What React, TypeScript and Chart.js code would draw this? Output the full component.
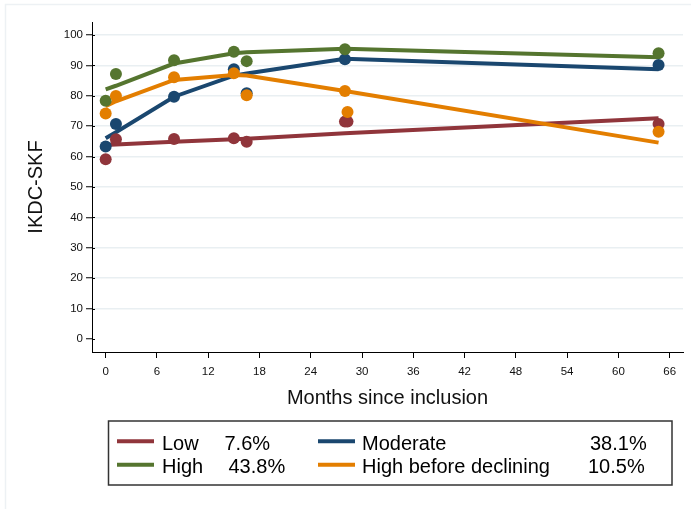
import { useEffect, useRef } from "react";
import { Chart, registerables } from "chart.js";

Chart.register(...registerables);

const FONT = "'Liberation Sans', Arial, Helvetica, sans-serif";

const groupNames = ["Low", "Moderate", "High", "High before declining"];
const groupShares = ["7.6%", "38.1%", "43.8%", "10.5%"];
const groupColors = ["#90353B", "#1A476F", "#55752F", "#E37E00"];

// observed group means
const obsTimes = [0, 1.2, 8, 15, 16.5, 28, 28.3, 64.7];
const lowObs = [59.1, 65.7, 65.8, 66.0, 64.9, 71.5, 71.5, 70.7];
const moderateObs = [63.3, 70.7, 79.7, 88.7, 80.8, 92.0, null, 90.1];
const highObs = [78.4, 87.2, 91.7, 94.5, 91.4, 95.3, null, 94.0];
const declObs = [74.2, 79.9, 86.1, 87.4, 80.2, 81.6, 74.7, 68.2];

// fitted trajectories
const fitTimes = [0, 1.2, 8, 15, 16.5, 28, 64.7];
const lowFit = [63.8, 64.0, 64.9, 65.7, 65.9, 67.7, 72.6];
const moderateFit = [66.0, 68.0, 79.7, 86.6, 87.3, 92.2, 88.7];
const highFit = [82.1, 83.3, 90.6, 94.0, 94.3, 95.5, 92.7];
const declFit = [76.6, 78.2, 85.2, 86.8, 86.7, 81.6, 64.6];

const xTicks = [0, 6, 12, 18, 24, 30, 36, 42, 48, 54, 60, 66];
const yTicks = [0, 10, 20, 30, 40, 50, 60, 70, 80, 90, 100];

const obsSeries = [lowObs, moderateObs, highObs, declObs];
const fitSeries = [lowFit, moderateFit, highFit, declFit];

const legendPlugin = {
  id: "stataLegend",
  afterDraw(chart: any) {
    const ctx = chart.ctx as CanvasRenderingContext2D;
    ctx.save();
    // faint outer graph-region frame
    ctx.strokeStyle = "#edf1f4";
    ctx.lineWidth = 1.5;
    ctx.beginPath();
    ctx.moveTo(5.5, 509);
    ctx.lineTo(5.5, 4.5);
    ctx.lineTo(691, 4.5);
    ctx.stroke();

    // short inner part of y ticks (Stata "crossing" ticks)
    const ys = chart.scales.y;
    const left = chart.chartArea.left;
    ctx.strokeStyle = "#000";
    ctx.lineWidth = 1;
    yTicks.forEach((v) => {
      const py = Math.round(ys.getPixelForValue(v)) + 0.5;
      ctx.beginPath();
      ctx.moveTo(left, py);
      ctx.lineTo(left + 3, py);
      ctx.stroke();
    });

    // legend box
    ctx.strokeStyle = "#333333";
    ctx.lineWidth = 1.5;
    ctx.strokeRect(108.5, 421, 563.5, 64);

    const lineX = [117, 318, 117, 318];
    const nameX = [162, 362, 162, 362];
    const shareX = [224.5, 590, 228.5, 588];
    const lineY = [441.3, 441.3, 464.7, 464.7];
    const baseY = [449.5, 449.5, 472.5, 472.5];
    const order = [0, 1, 2, 3];
    ctx.font = `20px ${FONT}`;
    ctx.textBaseline = "alphabetic";
    ctx.textAlign = "left";
    order.forEach((g, i) => {
      ctx.strokeStyle = groupColors[g];
      ctx.lineWidth = 4;
      ctx.beginPath();
      ctx.moveTo(lineX[i], lineY[i]);
      ctx.lineTo(lineX[i] + 37, lineY[i]);
      ctx.stroke();
      ctx.fillStyle = "#000";
      ctx.fillText(groupNames[g], nameX[i], baseY[i]);
      ctx.fillText(groupShares[g], shareX[i], baseY[i]);
    });
    ctx.restore();
  },
};

export default function App() {
  const ref = useRef<HTMLCanvasElement | null>(null);

  useEffect(() => {
    if (!ref.current) return;
    const pointSets = obsSeries.map((vals, g) => ({
      type: "scatter" as const,
      label: groupNames[g] + " observed",
      data: obsTimes
        .map((t, i) => ({ x: t, y: vals[i] }))
        .filter((p) => p.y !== null),
      backgroundColor: groupColors[g],
      borderColor: groupColors[g],
      borderWidth: 0,
      pointRadius: 6,
      order: 3 - g,
    }));
    const lineSets = fitSeries.map((vals, g) => ({
      type: "line" as const,
      label: groupNames[g],
      data: fitTimes.map((t, i) => ({ x: t, y: vals[i] })),
      borderColor: groupColors[g],
      backgroundColor: groupColors[g],
      borderWidth: 4,
      pointRadius: 0,
      tension: 0,
      fill: false,
      order: 7 - g,
    }));

    const chart = new Chart(ref.current, {
      type: "scatter",
      data: { datasets: [...pointSets, ...lineSets] as any },
      options: {
        animation: false,
        responsive: false,
        devicePixelRatio: 1,
        events: [],
        layout: { padding: { top: 22, right: 8, left: 0, bottom: 0 } },
        plugins: {
          legend: { display: false },
          tooltip: { enabled: false },
          title: { display: false },
        },
        scales: {
          x: {
            type: "linear",
            min: -1.6,
            max: 67.56,
            afterBuildTicks: (s: any) => {
              s.ticks = xTicks.map((v) => ({ value: v }));
            },
            afterFit: (s: any) => {
              s.height = 157;
            },
            grid: {
              drawOnChartArea: false,
              drawTicks: true,
              tickLength: 6,
              tickColor: "#000",
              tickWidth: 1,
            },
            border: { color: "#000", width: 1 },
            ticks: {
              font: { family: FONT, size: 11.5 },
              color: "#111",
              padding: 7,
              autoSkip: false,
              maxRotation: 0,
              callback: (v: any) => String(v),
            },
            title: {
              display: true,
              text: "Months since inclusion",
              font: { family: FONT, size: 20 },
              color: "#111",
              padding: { top: 0, bottom: 99 },
            },
          },
          y: {
            type: "linear",
            min: -4.28,
            max: 104.27,
            afterBuildTicks: (s: any) => {
              s.ticks = yTicks.map((v) => ({ value: v }));
            },
            afterFit: (s: any) => {
              s.width = 92;
            },
            grid: {
              color: (c: any) =>
                c.tick && c.tick.value === 0 ? "rgba(0,0,0,0)" : "#e9eff2",
              lineWidth: 1.5,
              drawTicks: true,
              tickLength: 6,
              tickColor: "#000",
              tickWidth: 1,
            },
            border: { color: "#000", width: 1 },
            ticks: {
              font: { family: FONT, size: 11.5 },
              color: "#111",
              padding: 3,
              autoSkip: false,
              callback: (v: any) => String(v),
            },
            title: {
              display: true,
              text: "IKDC-SKF",
              font: { family: FONT, size: 20 },
              color: "#111",
              padding: { top: 24, bottom: 0 },
            },
          },
        },
      },
      plugins: [legendPlugin],
    });
    return () => chart.destroy();
  }, []);

  return (
    <div
      style={{
        position: "absolute",
        left: 0,
        top: 0,
        width: 691,
        height: 509,
        background: "#fff",
      }}
    >
      <canvas ref={ref} width={691} height={509} style={{ display: "block" }} />
    </div>
  );
}
